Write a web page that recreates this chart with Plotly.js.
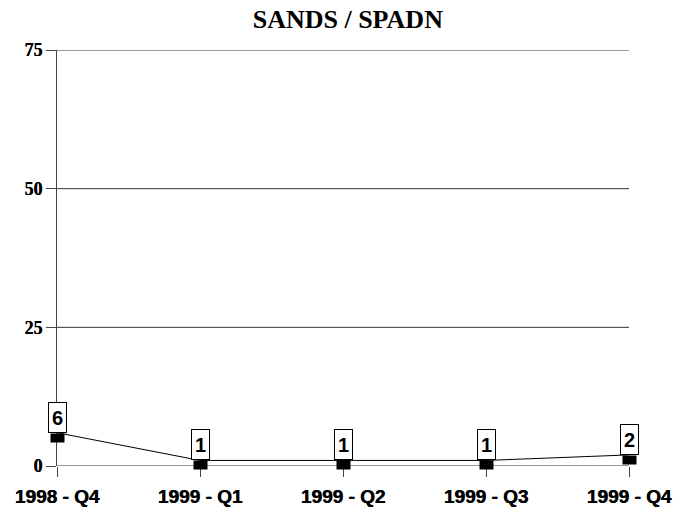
<!DOCTYPE html>
<html><head><meta charset="utf-8">
<script src="https://cdn.plot.ly/plotly-3.0.1.min.js"></script>
<style>body{margin:0;background:#fff}#chart{width:686px;height:510px}</style>
</head><body><div id="chart"></div>
<script>
const categories = ["1998 - Q4", "1999 - Q1", "1999 - Q2", "1999 - Q3", "1999 - Q4"];
const values = [6, 1, 1, 1, 2];
const yTicks = [0, 25, 50, 75];

const xIdx = categories.map((c, i) => i);
const annotations = [];
values.forEach((v, i) => {
  annotations.push({
    x: i, y: v, xref: 'x', yref: 'y', text: String(v), showarrow: false,
    xanchor: 'center', yanchor: 'bottom', yshift: 0,
    bordercolor: '#000', borderwidth: 1, bgcolor: '#fff', borderpad: 0,
    width: 17, height: 29,
    font: {family: 'Liberation Sans, Arial, sans-serif', size: 20, color: '#000', weight: 'bold'}
  });
  annotations.push({
    x: i, y: v, xref: 'x', yref: 'y', text: ' ', showarrow: false,
    xanchor: 'center', yanchor: 'top', yshift: 0,
    bgcolor: '#000', borderpad: 0, width: 13, height: 8,
    font: {size: 4}
  });
});

const shapes = yTicks.map(t => ({
  type: 'line', xref: 'paper', yref: 'y', x0: 0, x1: 1, y0: t, y1: t,
  line: {color: '#333', width: 1}, layer: 'below'
}));

Plotly.newPlot('chart', [{
  x: xIdx, y: values, type: 'scatter', mode: 'lines',
  line: {color: '#000', width: 1}, hoverinfo: 'skip', cliponaxis: false
}], {
  width: 686, height: 510,
  margin: {l: 57, r: 57, t: 50, b: 44},
  paper_bgcolor: '#fff', plot_bgcolor: '#fff',
  showlegend: false,
  title: {text: '<b>SANDS / SPADN</b>', x: 0.507, xanchor: 'center', y: 0.963, yanchor: 'middle',
    font: {family: 'Liberation Serif, Times New Roman, serif', size: 26, color: '#000'}},
  xaxis: {
    range: [0, 4], tickmode: 'array', tickvals: xIdx, ticktext: categories,
    showgrid: false, zeroline: false, showline: false,
    ticks: 'outside', ticklen: 10, tickcolor: '#444', tickwidth: 1,
    ticklabelstandoff: 3,
    tickfont: {family: 'Liberation Sans, Arial, sans-serif', size: 19, color: '#000', weight: 'bold', shadow: '0.6px 0 0 #000'},
    fixedrange: true
  },
  yaxis: {
    range: [0, 75], tickmode: 'array', tickvals: yTicks, ticktext: yTicks.map(String),
    showgrid: false, zeroline: false,
    showline: true, linecolor: '#444', linewidth: 1,
    ticks: 'outside', ticklen: 10, tickcolor: '#444',
    tickfont: {family: 'Liberation Serif, Times New Roman, serif', size: 18, color: '#000', weight: 'bold', shadow: '0.4px 0 0 #000'},
    fixedrange: true
  },
  shapes: shapes,
  annotations: annotations
}, {displayModeBar: false, staticPlot: true});
</script></body></html>
